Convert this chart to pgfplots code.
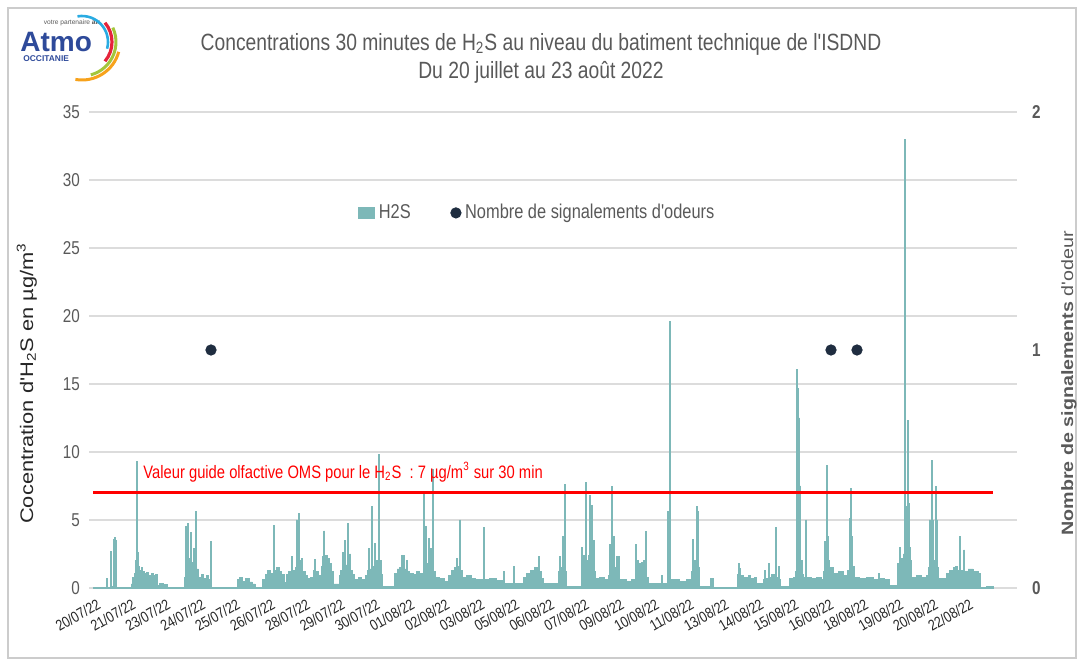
\documentclass[border=0pt]{standalone}
\usepackage{pgfplots}
\usepackage{pgfplotstable}
\pgfplotsset{compat=1.18}
\usepackage{fontspec}
\setmainfont{Liberation Sans}
\newfontfamily\narrow[FakeStretch=0.82]{Liberation Sans}
\newfontfamily\wide[FakeStretch=1.2]{Liberation Sans}
\definecolor{h2s}{RGB}{125,184,184}
\definecolor{txtgray}{RGB}{89,89,89}
\definecolor{gridgray}{RGB}{220,220,220}
\definecolor{dotnavy}{RGB}{31,45,64}
\definecolor{atmoblue}{RGB}{46,74,154}
\definecolor{lcyan}{RGB}{41,171,226}
\definecolor{lred}{RGB}{229,36,59}
\definecolor{lgreen}{RGB}{163,198,59}
\definecolor{lorange}{RGB}{247,162,27}

% X = position along the time axis (one tick = 104.7 units = 1 1/3 day), y = H2S in ug/m3
\pgfplotstableread{
X y
0 0.05
40 0.7
43 0.05
52 2.7
55 0.1
62 3.6
65 3.7
68 3.5
71 0.05
114 0.3
118 0.8
123 1.1
127 2.0
130 9.3
133 2.6
136 1.6
140 1.3
144 1.5
149 1.2
155 1.05
161 1.15
167 0.95
174 1.05
181 0.9
188 1.0
194 0.2
200 0.35
212 0.25
224 0.05
274 0.8
277 4.5
280 1.8
284 4.75
287 2.2
292 4.1
295 1.9
300 2.9
303 1.5
308 5.6
311 1.4
316 0.8
325 1.0
332 0.7
340 0.9
347 0.6
352 3.4
355 0.05
432 0.6
440 0.8
448 0.5
458 0.7
468 0.45
478 0.3
486 0.05
508 0.6
516 1.0
524 1.3
532 1.1
540 4.6
543 1.3
550 1.5
558 1.2
566 1.0
574 0.4
579 1.0
586 1.2
595 2.3
599 1.3
606 1.5
609 5.0
612 1.6
616 5.5
619 2.0
624 2.2
628 1.2
636 0.9
644 0.7
652 0.8
660 1.3
664 2.1
668 1.2
676 0.9
684 1.6
688 2.3
692 4.2
695 2.4
702 2.2
709 1.8
715 1.2
720 0.3
738 0.9
742 1.3
748 2.6
752 1.5
755 3.5
758 1.7
762 4.75
765 2.0
770 2.5
773 1.3
778 1.0
785 0.6
797 0.8
805 0.6
818 0.9
824 1.3
827 2.9
830 1.4
836 6.0
839 1.6
844 3.3
847 2.0
852 1.8
857 9.85
860 2.0
864 1.0
869 0.1
905 1.1
912 1.4
920 1.5
925 2.4
928 1.5
932 2.4
935 1.4
940 2.0
943 1.2
950 1.1
960 1.0
970 1.2
980 1.1
990 6.9
993 1.6
998 4.5
1001 1.8
1005 3.65
1008 1.6
1012 2.9
1015 1.5
1018 8.7
1021 1.2
1026 0.8
1040 0.7
1055 0.5
1066 0.9
1075 1.3
1083 1.5
1090 2.2
1093 1.6
1100 5.0
1103 1.3
1107 0.8
1120 0.9
1135 0.7
1148 0.6
1170 4.45
1173 0.6
1190 0.7
1210 0.55
1230 1.2
1233 0.35
1260 1.6
1263 0.35
1290 0.8
1300 1.1
1312 1.3
1324 1.5
1335 2.3
1338 1.2
1345 0.7
1350 0.35
1395 1.2
1400 2.3
1403 1.5
1408 3.8
1411 1.8
1413 7.6
1416 1.2
1420 0.1
1464 3.0
1467 1.6
1470 2.4
1473 1.8
1477 7.75
1480 2.0
1485 2.4
1488 1.8
1490 6.8
1493 2.0
1495 6.1
1498 1.8
1500 3.5
1503 1.2
1506 0.7
1520 0.8
1535 0.6
1547 0.9
1548 3.2
1551 1.2
1555 7.45
1558 1.5
1560 3.8
1563 1.5
1570 2.3
1580 0.6
1600 0.5
1615 0.6
1627 3.2
1630 0.9
1632 2.0
1635 0.8
1638 1.8
1641 0.8
1645 1.9
1648 0.8
1650 2.0
1653 0.9
1657 4.15
1660 0.8
1665 0.35
1705 0.95
1708 0.35
1723 5.6
1726 0.5
1730 19.6
1733 0.6
1760 0.5
1780 0.6
1796 1.2
1799 3.6
1802 1.5
1805 2.0
1808 1.4
1810 6.0
1813 5.6
1816 1.5
1820 0.1
1852 0.7
1862 0.05
1934 1.0
1935 1.8
1938 0.9
1940 1.45
1943 0.9
1952 0.8
1965 0.95
1972 0.7
1985 0.8
1991 0.35
2012 0.6
2015 1.3
2018 0.7
2027 1.8
2030 0.8
2036 1.0
2045 0.7
2047 4.45
2050 0.8
2055 1.6
2058 0.6
2061 0.1
2090 0.7
2100 0.8
2108 1.2
2111 16.1
2114 14.7
2117 12.5
2120 7.5
2123 2.0
2127 1.0
2132 0.8
2138 5.0
2141 0.8
2155 0.7
2170 0.75
2185 0.6
2190 1.2
2195 3.4
2198 1.5
2200 9.0
2203 3.8
2206 2.0
2210 1.5
2220 1.1
2235 1.2
2250 0.9
2262 1.3
2268 5.1
2271 2.0
2273 7.3
2276 3.8
2279 1.6
2284 0.8
2300 0.7
2320 0.8
2340 0.6
2355 1.1
2358 0.7
2375 0.65
2390 0.2
2412 1.8
2420 3.0
2423 2.2
2430 2.5
2435 33.0
2438 6.0
2441 3.0
2444 12.3
2447 6.2
2450 3.0
2453 2.0
2456 0.8
2470 0.9
2485 0.75
2500 0.9
2506 1.5
2508 5.0
2511 2.0
2514 9.4
2517 5.0
2520 2.0
2524 1.6
2528 7.45
2531 5.0
2534 1.5
2537 0.7
2560 1.1
2570 1.3
2580 1.5
2586 1.6
2592 1.3
2600 3.8
2603 1.3
2612 2.8
2615 1.2
2625 1.4
2640 1.2
2655 1.1
2661 0.02
2680 0.1
2700 0.1
}\hdata

\begin{document}
\begin{tikzpicture}
\path[use as bounding box] (0,0) rectangle (541.5pt,332pt);
\draw[gray!40, line width=0.8pt] (4pt,3pt) rectangle (538pt,328pt);

% logo
\node[anchor=south west, inner sep=0, text=atmoblue, font=\fontsize{14}{14}\selectfont\bfseries] at (10pt,306pt) {Atmo};
\node[anchor=north west, inner sep=0, text=atmoblue, font=\fontsize{4.2}{5}\selectfont\bfseries] at (11.5pt,304.5pt) {OCCITANIE};
\node[inner sep=0, text=txtgray, font=\fontsize{3.3}{4}\selectfont] at (36pt,320.5pt) {votre partenaire \textbf{air}};
\draw[lcyan, line width=1.3pt] (41pt,311pt) ++(100:13pt) arc[start angle=100, end angle=-15, radius=13pt];
\draw[lred, line width=1.6pt] (41pt,311pt) ++(40:15pt) arc[start angle=40, end angle=-40, radius=15pt];
\draw[lgreen, line width=1.5pt] (41pt,311pt) ++(25:17pt) arc[start angle=25, end angle=-75, radius=17pt];
\draw[lorange, line width=1.5pt] (41pt,311pt) ++(-15:19pt) arc[start angle=-15, end angle=-100, radius=19pt];

% title
\node[text=txtgray, font=\narrow\fontsize{11.75}{13}\selectfont] at (270.5pt,310pt) {Concentrations 30 minutes de H\textsubscript{2}S au niveau du batiment technique de l'ISDND};
\node[text=txtgray, font=\narrow\fontsize{11.75}{13}\selectfont] at (270.5pt,296pt) {Du 20 juillet au 23 août 2022};

\begin{axis}[
  at={(44.5pt,38pt)}, anchor=south west,
  scale only axis, width=464pt, height=238pt,
  xmin=-12, xmax=2772, ymin=0, ymax=35,
  axis line style={draw=none},
  major tick length=0pt,
  ytick={0,5,...,35},
  ymajorgrids, major grid style={gridgray, line width=0.7pt},
  /pgf/number format/assume math mode=true,
  yticklabel style={font=\narrow\fontsize{9.3}{10}\selectfont, text=txtgray, xshift=-1pt},
  xtick={0,104.7,209.4,314.1,418.8,523.5,628.2,732.9,837.6,942.3,1047,1151.7,1256.4,1361.1,1465.8,1570.5,1675.2,1779.9,1884.6,1989.3,2094,2198.7,2303.4,2408.1,2512.8,2617.5},
  xticklabels={20/07/22,21/07/22,23/07/22,24/07/22,25/07/22,26/07/22,28/07/22,29/07/22,30/07/22,01/08/22,02/08/22,03/08/22,05/08/22,06/08/22,07/08/22,09/08/22,10/08/22,11/08/22,13/08/22,14/08/22,15/08/22,16/08/22,18/08/22,19/08/22,20/08/22,22/08/22},
  xticklabel style={font=\narrow\fontsize{7.6}{8}\selectfont, text=black!85, rotate=30, anchor=north east, yshift=-4pt, inner sep=1pt},
  ylabel={Cocentration d'H\textsubscript{2}S en µg/m\textsuperscript{3}},
  every axis y label/.style={at={(axis description cs:-0.067,0.43)}, rotate=90, anchor=center, font=\wide\fontsize{9.1}{11}\selectfont, text=black!85},
  clip=false,
]
\addplot[const plot, fill=h2s, draw=h2s, line width=0.35pt] table[x=X, y=y] {\hdata} \closedcycle;
\addplot[red, line width=1.5pt] coordinates {(0,7) (2700,7)};
\node[anchor=west, text=red, font=\narrow\fontsize{9}{10}\selectfont, inner sep=0] at (axis cs:150,8.53) {Valeur guide olfactive OMS pour le H\textsubscript{2}S~ : 7 µg/m\textsuperscript{3} sur 30 min};
\end{axis}

\begin{axis}[
  at={(44.5pt,38pt)}, anchor=south west,
  scale only axis, width=464pt, height=238pt,
  xmin=-12, xmax=2772, ymin=0, ymax=2,
  hide x axis,
  axis y line*=right, y axis line style={draw=none},
  major tick length=0pt,
  ytick={0,1,2},
  /pgf/number format/assume math mode=true,
  yticklabel style={font=\narrow\fontsize{9.3}{10}\selectfont\bfseries, text=txtgray, xshift=4pt},
  ylabel={\textbf{Nombre de signalements} d'odeur},
  every axis y label/.style={at={(axis description cs:1.056,0.43)}, rotate=90, anchor=center, font=\wide\fontsize{8.2}{10}\selectfont, text=txtgray},
  legend style={at={(0.283,0.788)}, anchor=west, draw=none, fill=none, legend columns=2,
    font=\narrow\fontsize{10}{11}\selectfont, text=txtgray,
    /tikz/every even column/.append style={column sep=18pt}},
  legend cell align=left,
]
\addlegendimage{legend image code/.code={\fill[h2s] (0pt,-2.6pt) rectangle (8pt,2.6pt);}}
\addlegendentry{H2S}
\addplot[only marks, mark=*, mark size=2.6pt, color=dotnavy] coordinates {(354,1) (2214,1) (2292,1)};
\addlegendentry{Nombre de signalements d'odeurs}
\end{axis}
\end{tikzpicture}
\end{document}
